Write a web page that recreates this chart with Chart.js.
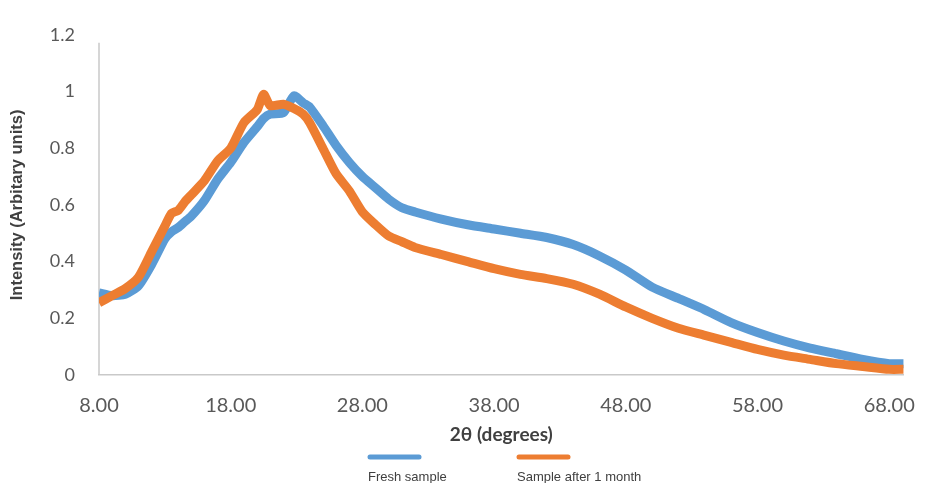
<!DOCTYPE html>
<html>
<head>
<meta charset="utf-8">
<script src="https://cdn.jsdelivr.net/npm/chart.js@4.4.1/dist/chart.umd.min.js"></script>
<style>
  html, body { margin: 0; padding: 0; background: #ffffff; }
  #wrap { position: relative; width: 934px; height: 483px; }
</style>
</head>
<body>
<div id="wrap"><canvas id="c" width="934" height="483"></canvas></div>
<script>
// 2θ positions (degrees)
const twoTheta = [8, 9, 10, 11, 12, 13, 13.5, 14, 14.5, 15, 16, 17, 18, 19, 20, 20.5, 21, 22, 22.8, 23.5, 24, 25, 26, 27, 28, 29, 30, 31, 32, 34, 36, 38, 40, 42, 44, 46, 48, 50, 52, 54, 56, 58, 60, 62, 64, 66, 68, 69.1];
// Fresh sample intensity
const freshSample = [0.29, 0.28, 0.285, 0.315, 0.39, 0.48, 0.505, 0.52, 0.54, 0.56, 0.615, 0.69, 0.75, 0.82, 0.875, 0.905, 0.92, 0.925, 0.985, 0.96, 0.945, 0.88, 0.81, 0.75, 0.70, 0.66, 0.62, 0.59, 0.575, 0.55, 0.53, 0.515, 0.50, 0.485, 0.46, 0.42, 0.37, 0.31, 0.27, 0.23, 0.185, 0.15, 0.12, 0.095, 0.075, 0.055, 0.04, 0.04];
// Sample after 1 month intensity
const afterOneMonth = [0.255, 0.28, 0.305, 0.345, 0.435, 0.525, 0.57, 0.58, 0.61, 0.635, 0.685, 0.755, 0.80, 0.89, 0.935, 0.99, 0.95, 0.955, 0.94, 0.92, 0.89, 0.80, 0.71, 0.65, 0.575, 0.53, 0.49, 0.47, 0.45, 0.425, 0.40, 0.375, 0.355, 0.34, 0.32, 0.285, 0.24, 0.20, 0.165, 0.14, 0.115, 0.09, 0.07, 0.055, 0.04, 0.03, 0.02, 0.02];
const xTicks = [8, 18, 28, 38, 48, 58, 68];
const yTicks = [0, 0.2, 0.4, 0.6, 0.8, 1, 1.2];
const seriesNames = ['Fresh sample', 'Sample after 1 month'];
const seriesColors = ['#5b9bd5', '#ed7d31'];
const xTitle = '2θ (degrees)';
const yTitle = 'Intensity (Arbitary units)';

function pts(ys) { return twoTheta.map((x, i) => ({ x: x, y: ys[i] })); }

const bgPlugin = {
  id: 'bg',
  beforeDraw(chart) {
    const ctx = chart.ctx;
    ctx.save();
    ctx.fillStyle = '#ffffff';
    ctx.fillRect(0, 0, chart.width, chart.height);
    ctx.restore();
  }
};

// y axis line (Excel style: stops slightly below the top tick label)
const yAxisLinePlugin = {
  id: 'yAxisLine',
  beforeDatasetsDraw(chart) {
    const ctx = chart.ctx;
    const ys = chart.scales.y;
    const a = chart.chartArea;
    ctx.save();
    ctx.strokeStyle = '#c9c9c9';
    ctx.lineWidth = 1.5;
    ctx.beginPath();
    ctx.moveTo(a.left, ys.getPixelForValue(1.172));
    ctx.lineTo(a.left, a.bottom);
    ctx.stroke();
    ctx.restore();
  }
};

const legendPlugin = {
  id: 'customLegend',
  afterDraw(chart) {
    const ctx = chart.ctx;
    const items = [
      { x: 368, label: seriesNames[0], color: seriesColors[0] },
      { x: 517, label: seriesNames[1], color: seriesColors[1] }
    ];
    ctx.save();
    items.forEach(it => {
      ctx.strokeStyle = it.color;
      ctx.lineWidth = 5;
      ctx.lineCap = 'round';
      ctx.beginPath();
      ctx.moveTo(it.x + 2, 457);
      ctx.lineTo(it.x + 51, 457);
      ctx.stroke();
      ctx.fillStyle = '#404040';
      ctx.font = '13px "Liberation Sans", Arial, sans-serif';
      ctx.textAlign = 'left';
      ctx.textBaseline = 'middle';
      ctx.fillText(it.label, it.x, 477);
    });
    ctx.restore();
  }
};

new Chart(document.getElementById('c'), {
  type: 'line',
  data: {
    datasets: [
      {
        label: seriesNames[0],
        data: pts(freshSample),
        borderColor: seriesColors[0],
        backgroundColor: seriesColors[0],
        borderWidth: 9,
        pointRadius: 0,
        tension: 0.2,
        order: 1
      },
      {
        label: seriesNames[1],
        data: pts(afterOneMonth),
        borderColor: seriesColors[1],
        backgroundColor: seriesColors[1],
        borderWidth: 9,
        pointRadius: 0,
        tension: 0.2,
        order: 0
      }
    ]
  },
  options: {
    responsive: false,
    animation: false,
    layout: { padding: { top: 24, right: 14, bottom: 33, left: 0 } },
    plugins: {
      legend: { display: false },
      tooltip: { enabled: false }
    },
    scales: {
      x: {
        type: 'linear',
        min: 8,
        max: 69.1,
        afterBuildTicks(scale) { scale.ticks = xTicks.map(v => ({ value: v })); },
        afterFit(scale) { scale.height = 75; },
        grid: { display: false, drawTicks: false },
        border: { display: true, color: '#c9c9c9', width: 1.5 },
        ticks: {
          padding: 19,
          color: '#595959',
          font: { family: 'Lato', size: 20 },
          maxRotation: 0,
          autoSkip: false,
          callback: v => Number(v).toFixed(2)
        },
        title: {
          display: true,
          text: xTitle,
          color: '#404040',
          font: { family: 'Lato', size: 19, weight: 'bold' },
          padding: { top: 0, bottom: 4 }
        }
      },
      y: {
        type: 'linear',
        min: 0,
        max: 1.2,
        afterBuildTicks(scale) { scale.ticks = yTicks.map(v => ({ value: v })); },
        afterFit(scale) { scale.width = 99; },
        grid: { display: false, drawTicks: false },
        border: { display: false },
        ticks: {
          padding: 24,
          color: '#595959',
          font: { family: 'Lato', size: 18 },
          callback: v => String(Math.round(v * 10) / 10)
        },
        title: {
          display: true,
          text: yTitle,
          color: '#404040',
          font: { family: '"Liberation Sans", Arial, sans-serif', size: 16.5, weight: 'bold' },
          padding: { top: 8, bottom: 0 }
        }
      }
    }
  },
  plugins: [bgPlugin, yAxisLinePlugin, legendPlugin]
});
</script>
</body>
</html>
